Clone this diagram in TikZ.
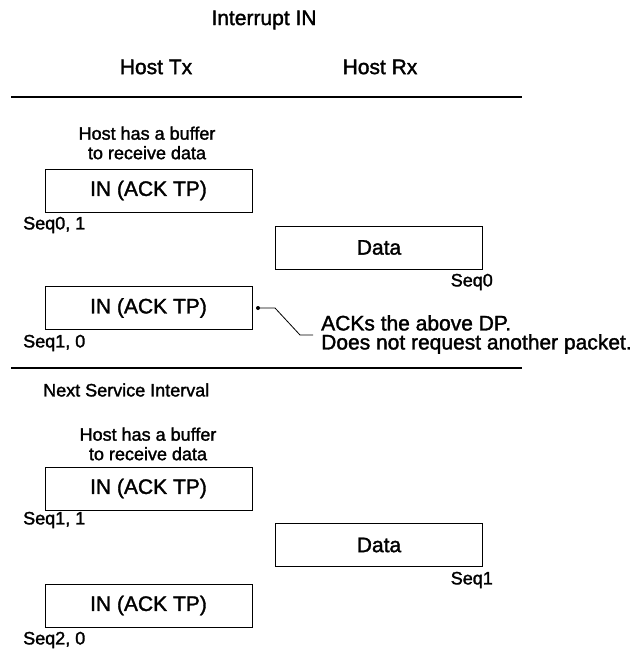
\documentclass[tikz,border=0pt]{standalone}
\usepackage{fontspec}
\setmainfont{Liberation Sans}[FakeBold=1.6]
\begin{document}
\begin{tikzpicture}[x=1pt,y=-1pt,
  big/.style={font=\fontsize{21}{22}\selectfont, inner sep=0pt},
  small/.style={font=\fontsize{18}{19}\selectfont, inner sep=0pt},
  two/.style={small, align=center, font=\fontsize{18}{19.5}\selectfont},
  pkt/.style={draw, line width=0.9pt, minimum width=207pt, minimum height=43pt, inner sep=0pt, font=\fontsize{21}{22}\selectfont},
  sep/.style={line width=1.3pt}]
\useasboundingbox (0,0) rectangle (639,650);
\node[big] (title) at (264,20) {Interrupt IN};
\node[big] (tx) at (156,67) {Host Tx};
\node[big] (rx) at (380,67) {Host Rx};
\coordinate (l1a) at (11,97);
\coordinate (l1b) at (522,97);
\draw[sep] (l1a) -- (l1b);
\node[two] (buf1) at (147,143) {Host has a buffer\\to receive data};
\node[pkt] (in1) at (148.5,190.5) {IN (ACK TP)};
\node[small, anchor=west] (s01) at (23,225) {Seq0, 1};
\node[pkt] (d1) at (379,247.5) {Data};
\node[small, anchor=east] (s0) at (493,282) {Seq0};
\node[pkt] (in2) at (148.5,308) {IN (ACK TP)};
\node[small, anchor=west] (s10) at (23,343) {Seq1, 0};
\coordinate (dot) at (258,308);
\fill (dot) circle (2pt);
\node[big, anchor=west, align=left, font=\fontsize{21}{19}\selectfont] (ack) at (321,334.5) {ACKs the above DP.\\Does not request another packet.};
\draw[line width=0.8pt] (dot) -- ++(17,0) -- ++(25,27) -- ++(13,0);
\coordinate (l2a) at (11,368);
\coordinate (l2b) at (522,368);
\draw[sep] (l2a) -- (l2b);
\node[small, anchor=west] (nsi) at (43,390) {Next Service Interval};
\node[two] (buf2) at (148,444) {Host has a buffer\\to receive data};
\node[pkt] (in3) at (148.5,488.5) {IN (ACK TP)};
\node[small, anchor=west] (s11) at (23,520) {Seq1, 1};
\node[pkt] (d2) at (379,545) {Data};
\node[small, anchor=east] (s1) at (493,580) {Seq1};
\node[pkt] (in4) at (148.5,605.5) {IN (ACK TP)};
\node[small, anchor=west] (s20) at (23,640) {Seq2, 0};
\end{tikzpicture}
\end{document}
